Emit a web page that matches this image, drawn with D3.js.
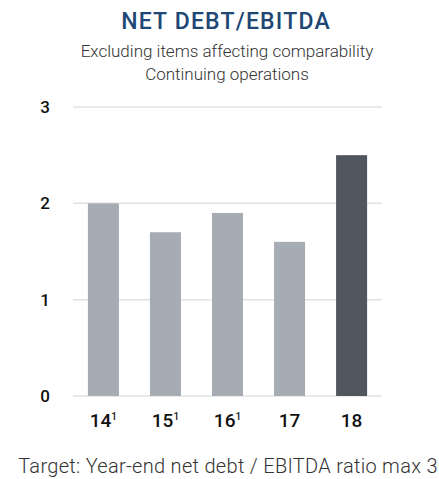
<!DOCTYPE html>
<html>
<head>
<meta charset="utf-8">
<script src="https://cdn.jsdelivr.net/npm/d3@7"></script>
<style>
  body { margin: 0; background: #fff; }
  text { font-family: Roboto, "Open Sans", sans-serif; }
</style>
</head>
<body>
<div id="chart"></div>
<script>
// data
var years = ["14", "15", "16", "17", "18"];
var footnotes = ["1", "1", "1", "", ""];
var ratios = [2.0, 1.7, 1.9, 1.6, 2.5];
var yTicks = [0, 1, 2, 3];

var width = 439;
var height = 479;

var svg = d3
  .select("#chart")
  .append("svg")
  .attr("width", width)
  .attr("height", height);

// Scales
var x_scale = d3
  .scaleBand()
  .domain(years)
  .range([73, 382])
  .paddingInner(0.5)
  .paddingOuter(0.24);
var y_scale = d3.scaleLinear().domain([0, 3]).range([396, 107]);

// Titles
svg
  .append("text")
  .attr("x", 226)
  .attr("y", 29)
  .attr("text-anchor", "middle")
  .attr("font-size", 23)
  .attr("font-weight", 500)
  .attr("letter-spacing", 1.2)
  .attr("fill", "#1e4775")
  .text("NET DEBT/EBITDA");

svg
  .append("text")
  .attr("x", 227)
  .attr("y", 57)
  .attr("text-anchor", "middle")
  .attr("font-size", 17)
  .attr("font-weight", 300)
  .attr("fill", "#333")
  .text("Excluding items affecting comparability");

svg
  .append("text")
  .attr("x", 227)
  .attr("y", 80)
  .attr("text-anchor", "middle")
  .attr("font-size", 17)
  .attr("font-weight", 300)
  .attr("fill", "#333")
  .text("Continuing operations");

// Gridlines
svg
  .append("g")
  .selectAll("line")
  .data(yTicks)
  .enter()
  .append("line")
  .attr("x1", 73)
  .attr("x2", 382)
  .attr("y1", d => y_scale(d))
  .attr("y2", d => y_scale(d))
  .attr("stroke", "#e2e2e2")
  .attr("stroke-width", 1.5);

// Y labels
svg
  .append("g")
  .selectAll("text")
  .data(yTicks)
  .enter()
  .append("text")
  .attr("x", 45)
  .attr("y", d => y_scale(d) + 6)
  .attr("text-anchor", "middle")
  .attr("font-size", 17)
  .attr("font-weight", 500)
  .attr("fill", "#111")
  .text(d => d);

// Bars
svg
  .append("g")
  .selectAll("rect")
  .data(ratios)
  .enter()
  .append("rect")
  .attr("x", (d, i) => x_scale(years[i]))
  .attr("y", d => y_scale(d))
  .attr("width", x_scale.bandwidth())
  .attr("height", d => y_scale(0) - y_scale(d))
  .attr("fill", (d, i) => (i === years.length - 1 ? "#4f565d" : "#a5acb3"));

// X labels
var xl = svg
  .append("g")
  .selectAll("text")
  .data(years)
  .enter()
  .append("text")
  .attr("x", d => x_scale(d) + x_scale.bandwidth() / 2)
  .attr("y", 427)
  .attr("text-anchor", "middle")
  .attr("font-size", 19)
  .attr("font-weight", 500)
  .attr("fill", "#111");
xl.append("tspan").text(d => d);
xl
  .append("tspan")
  .attr("dy", -7)
  .attr("font-size", 10)
  .text((d, i) => footnotes[i]);

// Note
svg
  .append("text")
  .attr("x", 228)
  .attr("y", 473)
  .attr("text-anchor", "middle")
  .attr("font-size", 20)
  .attr("font-weight", 300)
  .attr("letter-spacing", 0.3)
  .attr("fill", "#333")
  .text("Target: Year-end net debt / EBITDA ratio max 3");
</script>
</body>
</html>
